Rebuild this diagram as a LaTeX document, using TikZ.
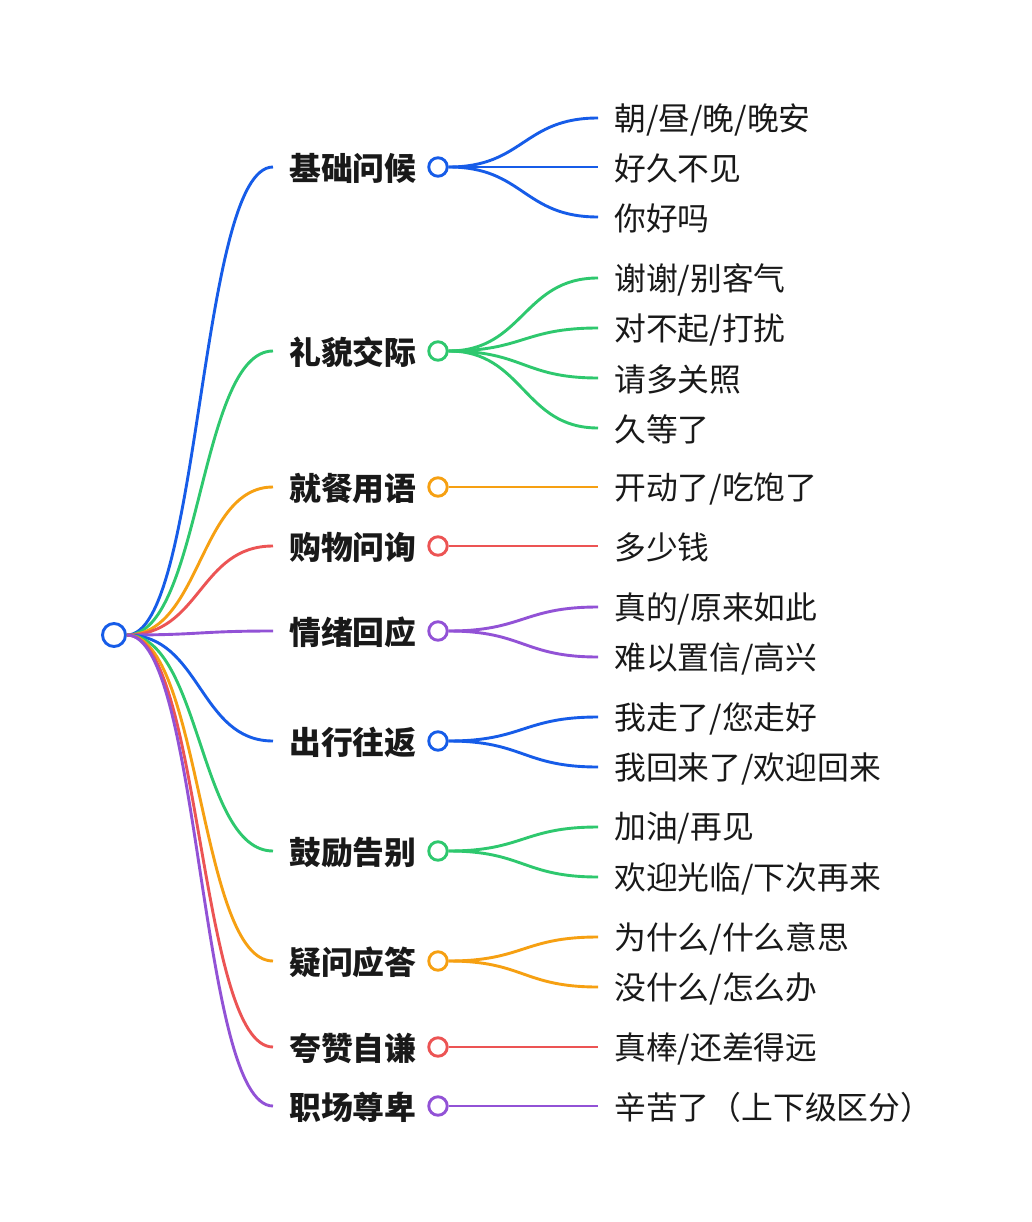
\documentclass[tikz,border=0pt]{standalone}
\usepackage{fontspec}
\setmainfont{Noto Sans CJK SC}
\definecolor{cblue}{RGB}{22,92,232}
\definecolor{cgreen}{RGB}{46,200,110}
\definecolor{corange}{RGB}{246,160,18}
\definecolor{cred}{RGB}{236,84,84}
\definecolor{cpurple}{RGB}{146,82,214}
\tikzset{
  branch/.style={line width=2.9pt},
  dot/.style={circle, line width=2.9pt, fill=white, minimum size=18.5pt, inner sep=0pt},
  cattext/.style={font=\fontsize{31.8}{36}\selectfont\bfseries, inner sep=0pt, text=black!90, yshift=-1.5pt},
  leaftext/.style={font=\fontsize{31.8}{36}\selectfont, inner sep=0pt, text=black!90, yshift=-1.5pt},
}
\newcommand\mkcat[4]{%
  \coordinate (#1e) at (273,#2);
  \node[cattext, anchor=west] (#1t) at (289,#2) {#4};
  \node[dot, draw=#3] (#1o) at (438,#2) {};
  \draw[branch, #3] (root.east) .. controls +(74,0) and +(-74,0) .. (#1e);
}
\newcommand\mkleaf[5]{%
  \node[leaftext, anchor=west] (#2) at (614,#3) {#5};
  \coordinate (#2e) at (598,#3);
  \draw[branch, #4] (#1o.east) .. controls +(75,0) and +(-75,0) .. (#2e);
}
\begin{document}
\begin{tikzpicture}[x=1pt,y=-1pt]
\useasboundingbox (0,0) rectangle (1032,1222);
\fill[white] (0,0) rectangle (1032,1222);
\node[circle, draw=cblue, line width=2.9pt, fill=white, minimum size=23pt, inner sep=0pt] (root) at (114,635) {};
\mkcat{a}{167}{cblue}{基础问候}
\mkcat{b}{351}{cgreen}{礼貌交际}
\mkcat{c}{487}{corange}{就餐用语}
\mkcat{d}{546}{cred}{购物问询}
\mkcat{e}{631}{cpurple}{情绪回应}
\mkcat{f}{741}{cblue}{出行往返}
\mkcat{g}{851}{cgreen}{鼓励告别}
\mkcat{h}{961}{corange}{疑问应答}
\mkcat{i}{1047}{cred}{夸赞自谦}
\mkcat{j}{1106}{cpurple}{职场尊卑}
\mkleaf{a}{a1}{118}{cblue}{朝/昼/晚/晚安}
\mkleaf{a}{a2}{167}{cblue}{好久不见}
\mkleaf{a}{a3}{217}{cblue}{你好吗}
\mkleaf{b}{b1}{278}{cgreen}{谢谢/别客气}
\mkleaf{b}{b2}{328}{cgreen}{对不起/打扰}
\mkleaf{b}{b3}{378}{cgreen}{请多关照}
\mkleaf{b}{b4}{428}{cgreen}{久等了}
\mkleaf{c}{c1}{487}{corange}{开动了/吃饱了}
\mkleaf{d}{d1}{546}{cred}{多少钱}
\mkleaf{e}{e1}{607}{cpurple}{真的/原来如此}
\mkleaf{e}{e2}{657}{cpurple}{难以置信/高兴}
\mkleaf{f}{f1}{717}{cblue}{我走了/您走好}
\mkleaf{f}{f2}{767}{cblue}{我回来了/欢迎回来}
\mkleaf{g}{g1}{827}{cgreen}{加油/再见}
\mkleaf{g}{g2}{877}{cgreen}{欢迎光临/下次再来}
\mkleaf{h}{h1}{937}{corange}{为什么/什么意思}
\mkleaf{h}{h2}{987}{corange}{没什么/怎么办}
\mkleaf{i}{i1}{1047}{cred}{真棒/还差得远}
\mkleaf{j}{j1}{1106}{cpurple}{辛苦了（上下级区分）}
\end{tikzpicture}
\end{document}
